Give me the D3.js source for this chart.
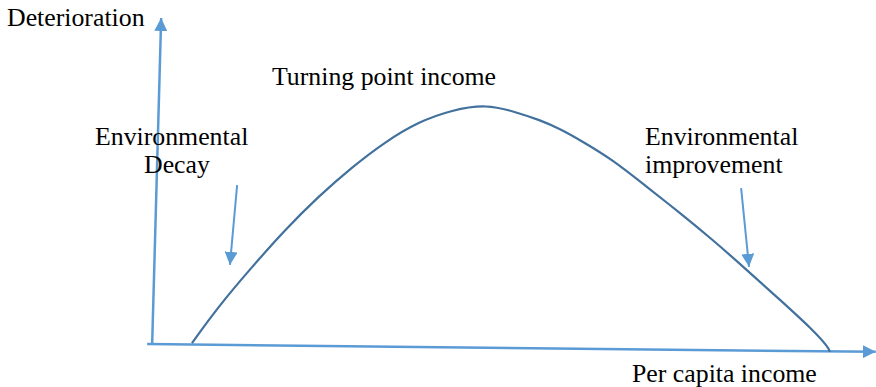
<!DOCTYPE html>
<html>
<head>
<meta charset="utf-8">
<script src="https://cdn.jsdelivr.net/npm/d3@7"></script>
<style>
  html, body { margin: 0; padding: 0; background: #fff; }
  text { font-family: "Liberation Serif", "Times New Roman", "DejaVu Serif", serif; font-size: 25.8px; fill: #000; }
</style>
</head>
<body>
<div id="chart"></div>
<script>
// curve: per capita income (x) vs deterioration (y), both in 0-100 units
var incomeVals = [5.83, 9.44, 14.17, 18.75, 23.33, 28.06, 32.64, 37.22, 41.94, 46.81, 50.69, 54.17, 56.94, 59.72, 64.31, 69.03, 73.61, 78.19, 82.92, 87.5, 92.08, 94.17, 94.44];
var deterVals = [0.6, 11.6, 23.9, 35.2, 45.3, 54.4, 62.1, 68.2, 71.9, 73.6, 71.3, 68.8, 66.1, 62.7, 56.6, 48.3, 40.4, 32.1, 22.9, 13.8, 4.6, -0.6, -2.1];

// axis lines (hand drawn, slightly tilted) [x0, y0, x1, y1]
var yAxisLine = [0.3, 0.3, 1.55, 100];
var xAxisLine = [-0.4, 0.3, 100.8, -2.1];

// pointer arrows [x0, y0, x1, y1]
var decayArrow = [12.1, 48.9, 11.1, 24.5];
var improveArrow = [82.1, 48.0, 83.2, 23.9];

var labels = ["Deterioration", "Turning point income", "Environmental", "Decay", "Environmental", "improvement", "Per capita income"];
var labelPos = [[7, 26], [272, 85], [95, 145], [144, 173], [645, 145], [645, 173], [632, 382]];

var width = 876, height = 387;
var axisColor = "#5B9BD5", curveColor = "#41719C";

var svg = d3.select("#chart")
    .append("svg")
    .attr("width", width)
    .attr("height", height);

var x = d3.scaleLinear().domain([0, 100]).range([150, 870]);
var y = d3.scaleLinear().domain([0, 100]).range([345, 18]);

var defs = svg.append("defs");
function addMarker(id, len, w) {
    defs.append("marker")
        .attr("id", id)
        .attr("markerUnits", "userSpaceOnUse")
        .attr("viewBox", "0 0 " + len + " " + w)
        .attr("refX", len)
        .attr("refY", w / 2)
        .attr("markerWidth", len)
        .attr("markerHeight", w)
        .attr("orient", "auto")
        .append("path")
        .attr("d", "M0,0L" + len + "," + (w / 2) + "L0," + w + "Z")
        .attr("fill", axisColor);
}
addMarker("axisHead", 13, 13);
addMarker("pointerHead", 13, 13);

function drawLine(l, sw, marker) {
    svg.append("line")
        .attr("x1", x(l[0])).attr("y1", y(l[1]))
        .attr("x2", x(l[2])).attr("y2", y(l[3]))
        .attr("stroke", axisColor)
        .attr("stroke-width", sw)
        .attr("marker-end", "url(#" + marker + ")");
}
drawLine(yAxisLine, 2.5, "axisHead");
drawLine(xAxisLine, 2.5, "axisHead");
drawLine(decayArrow, 2, "pointerHead");
drawLine(improveArrow, 2, "pointerHead");

// the curve, smoothed
var pts = incomeVals.map(function (v, i) { return [v, deterVals[i]]; });
svg.append("path")
    .datum(pts)
    .attr("fill", "none")
    .attr("stroke", curveColor)
    .attr("stroke-width", 2.2)
    .attr("d", d3.line()
        .x(function (d) { return x(d[0]); })
        .y(function (d) { return y(d[1]); })
        .curve(d3.curveBasis));

svg.selectAll("text.lbl")
    .data(labels)
    .enter()
    .append("text")
    .attr("class", "lbl")
    .attr("x", function (d, i) { return labelPos[i][0]; })
    .attr("y", function (d, i) { return labelPos[i][1]; })
    .text(function (d) { return d; });
</script>
</body>
</html>
